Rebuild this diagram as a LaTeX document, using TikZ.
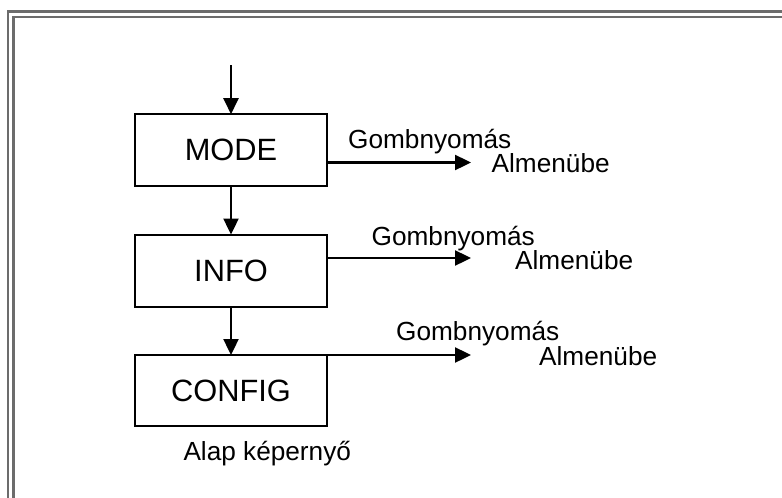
\documentclass[tikz,border=0pt]{standalone}
\usepackage{fontspec}
\setmainfont{Liberation Sans}
\usetikzlibrary{arrows.meta}
\begin{document}
\begin{tikzpicture}[x=1pt,y=-1pt,
  box/.style={draw=black,line width=2pt,minimum width=192pt,minimum height=72pt,inner sep=0pt,outer sep=0pt,font=\fontsize{30.8}{34}\selectfont},
  conn/.style={line width=2.4pt,-{Triangle[length=16pt,width=15pt]}},
  side/.style={anchor=base west,inner sep=0pt,font=\fontsize{26.2}{30}\selectfont},
  frame/.style={draw=gray!85!black,line width=2.6pt}]
\useasboundingbox (0,0) rectangle (782,498);
\fill[white] (0,0) rectangle (782,498);
% frame
\draw[frame] (782,11.5) -- (8,11.5) -- (8,498);
\draw[frame] (782,16.8) -- (13.5,16.8) -- (13.5,498);
% boxes
\node[box] (mode) at (231,150.2) {MODE};
\node[box] (info) at (231,270.5) {INFO};
\node[box,minimum height=71pt] (config) at (231,390.5) {CONFIG};
\coordinate (start) at (231,65);
\draw[conn] (start) -- (mode.north);
\draw[conn] (mode.south) -- (info.north);
\draw[conn] (info.south) -- (config.north);
% side arrows
\coordinate (t1) at (471,162.5);
\coordinate (t2) at (471,258);
\coordinate (t3) at (471,355);
\draw[conn] (mode.east |- t1) -- (t1);
\draw[conn] (info.east |- t2) -- (t2);
\draw[conn] (config.north east) -- (t3 |- config.north east);
% labels
\node[side] (g1) at (348,148) {Gombnyomás};
\node[side] (a1) at (491.5,172.7) {Almenübe};
\node[side] (g2) at (371.5,245) {Gombnyomás};
\node[side] (a2) at (515,269.5) {Almenübe};
\node[side] (g3) at (396,340.7) {Gombnyomás};
\node[side] (a3) at (539,365) {Almenübe};
\node[side] (alap) at (183.3,460) {Alap képernyő};
\end{tikzpicture}
\end{document}
